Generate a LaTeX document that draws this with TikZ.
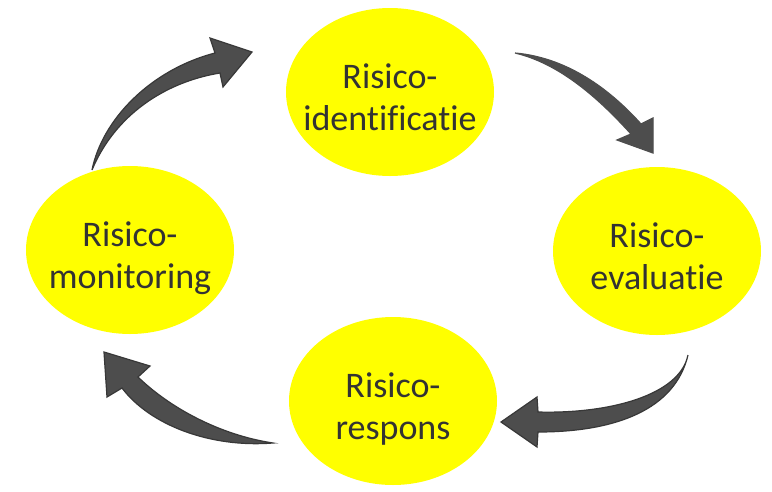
\documentclass[tikz,border=0pt]{standalone}
\usepackage{fontspec}
\setmainfont{Carlito}[Ligatures=NoCommon]
\usetikzlibrary{shapes.geometric}
\definecolor{phaseyellow}{HTML}{FFFF00}
\definecolor{arrowgray}{HTML}{4D4D4D}
\definecolor{edgegray}{HTML}{383838}
\definecolor{textgray}{HTML}{333333}
\begin{document}
\begin{tikzpicture}[x=1pt,y=-1pt,
    phase/.style={ellipse,fill=phaseyellow,minimum width=208pt,minimum height=168pt,inner sep=0pt},
    phasetext/.style={align=center,text=textgray,font=\fontsize{36}{42}\selectfont,inner sep=0pt,anchor=north,yshift=28pt},
    bigarrow/.style={fill=arrowgray,draw=edgegray,line width=1.2pt,line join=miter}]
    \useasboundingbox (0,0) rectangle (772,491);
    % the four steps of the cycle
    \node[phase] at (390,92) (ident) {};
    \node[phasetext] at (ident) {Risico-\\identificatie};
    \node[phase] at (657,251) (eval) {};
    \node[phasetext] at (eval) {Risico-\\evaluatie};
    \node[phase] at (393,401) (resp) {};
    \node[phasetext] at (resp) {Risico-\\respons};
    \node[phase] at (130,250) (monit) {};
    \node[phasetext] at (monit) {Risico-\\monitoring};
    % curved block arrows
    \draw[bigarrow] (92,170) .. controls (102,120) and (150,70) .. (215,53) -- (210,38) -- (252,52) -- (223,87) -- (220,73) .. controls (165,82) and (115,115) .. cycle;
    \draw[bigarrow,draw=arrowgray] (515,53) .. controls (572,58) and (615,95) .. (641,124) -- (653,118) -- (653,153) -- (617,140) -- (631,134) .. controls (602,102) and (562,64) .. cycle;
    \draw[bigarrow] (688,355) .. controls (680,395) and (610,414) .. (538,412) -- (537,397) -- (501,422) -- (537,447) -- (538,432) .. controls (615,432) and (675,410) .. cycle;
    \draw[bigarrow] (273,443) .. controls (220,435) and (170,408) .. (138,377) -- (150,366) -- (104,352) -- (107,397) -- (122,388) .. controls (150,425) and (210,448) .. cycle;
\end{tikzpicture}
\end{document}
